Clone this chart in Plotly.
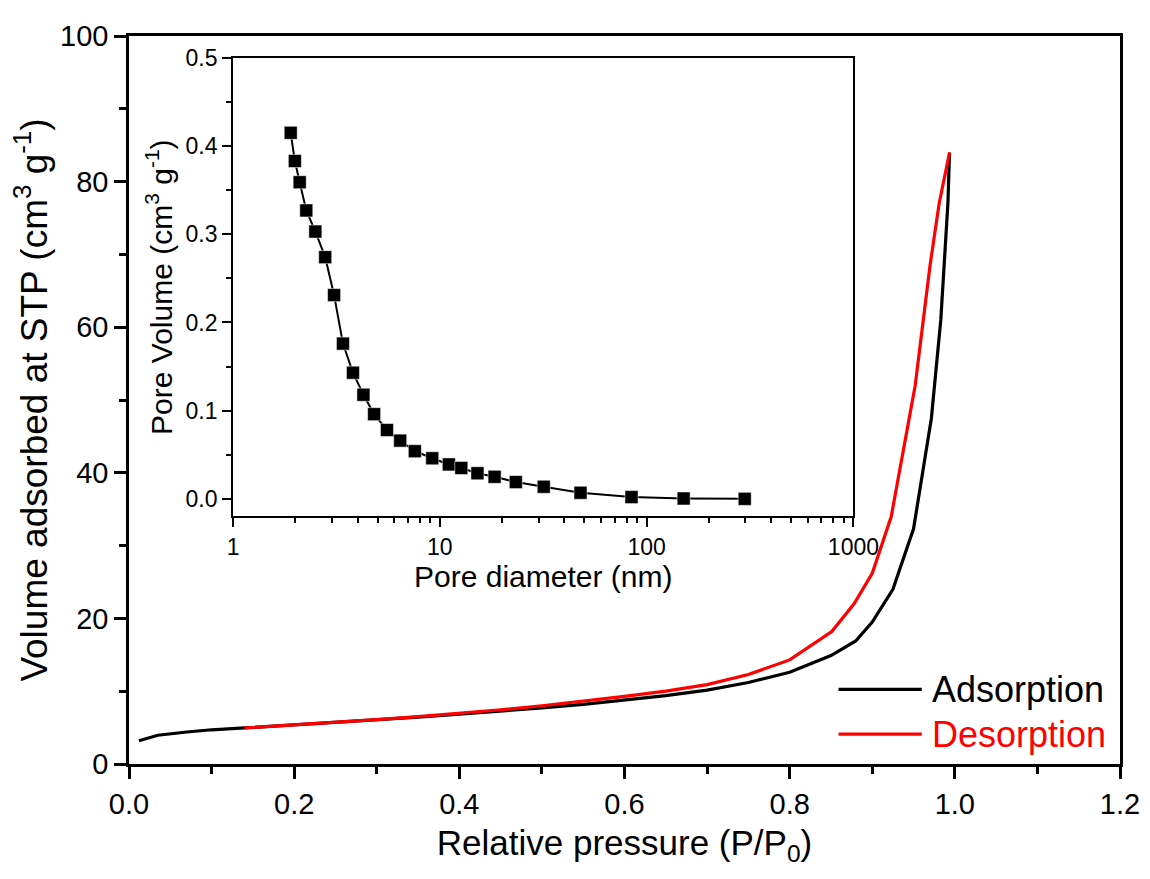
import plotly.graph_objects as go

# N2 sorption isotherm (main plot)
ads_p = [0.012, 0.035, 0.07, 0.10, 0.14, 0.20, 0.25, 0.30, 0.35, 0.40, 0.45, 0.50, 0.55,
         0.60, 0.65, 0.70, 0.75, 0.80, 0.85, 0.88, 0.90, 0.925, 0.95, 0.9716, 0.983, 0.9916, 0.9936]
ads_v = [3.2, 3.95, 4.4, 4.7, 4.95, 5.35, 5.7, 6.05, 6.45, 6.85, 7.25, 7.7, 8.2,
         8.75, 9.4, 10.15, 11.2, 12.6, 14.9, 16.9, 19.5, 24.0, 32.3, 47.5, 61.0, 77.0, 84.0]

des_p = [0.9936, 0.981, 0.970, 0.952, 0.923, 0.900, 0.878, 0.851, 0.80, 0.75, 0.70, 0.65,
         0.60, 0.55, 0.50, 0.45, 0.40, 0.35, 0.30, 0.25, 0.20, 0.14]
des_v = [84.0, 77.0, 68.5, 52.0, 34.0, 26.2, 22.0, 18.2, 14.3, 12.3, 10.9, 10.0,
         9.3, 8.6, 8.0, 7.45, 6.95, 6.5, 6.1, 5.75, 5.4, 4.95]

# pore size distribution (inset)
pore_d = [1.90, 1.99, 2.10, 2.26, 2.50, 2.79, 3.08, 3.40, 3.80, 4.27, 4.81, 5.55, 6.43,
          7.57, 9.19, 11.05, 12.7, 15.2, 18.4, 23.3, 31.8, 47.9, 84.5, 151, 298]
pore_v = [0.415, 0.383, 0.359, 0.327, 0.303, 0.274, 0.231, 0.176, 0.143, 0.118, 0.096, 0.078, 0.066,
          0.054, 0.046, 0.039, 0.035, 0.029, 0.025, 0.019, 0.0137, 0.0069, 0.002, 0.0004, 0.0]

series_names = ['Adsorption', 'Desorption']
series_colors = ['black', '#ff0000']

FONT = "Liberation Sans, Arial, sans-serif"
log_minor = [m * 10 ** k for k in range(3) for m in range(2, 10)]

fig = go.Figure()
fig.add_trace(go.Scatter(x=ads_p, y=ads_v, mode='lines', name=series_names[0],
                         line=dict(color=series_colors[0], width=3.2)))
fig.add_trace(go.Scatter(x=des_p, y=des_v, mode='lines', name=series_names[1],
                         line=dict(color=series_colors[1], width=3.2)))
fig.add_trace(go.Scatter(x=pore_d, y=pore_v, mode='lines+markers',
                         xaxis='x2', yaxis='y2',
                         line=dict(color='black', width=2),
                         marker=dict(symbol='square', size=13, color='black',
                                     line=dict(color='white', width=0.5))))

# legend drawn by hand, as in the original figure (long swatches)
for i, (name, col) in enumerate(zip(series_names, series_colors)):
    yrow = 0.1025 - i * 0.0615
    fig.add_shape(type='line', xref='paper', yref='paper', x0=0.716, x1=0.800, y0=yrow, y1=yrow,
                  line=dict(color=col, width=3.2))
    fig.add_annotation(xref='paper', yref='paper', x=0.808, y=yrow, xanchor='left', yanchor='middle',
                       text=name, showarrow=False, font=dict(size=36, color=col, family=FONT))

fig.update_layout(
    width=1150, height=879,
    margin=dict(l=121, r=15, t=24, b=123),
    paper_bgcolor='white', plot_bgcolor='white',
    showlegend=False,
    font=dict(family=FONT, color='black'),
    xaxis=dict(range=[0, 1.2], dtick=0.2, tickformat='.1f', showgrid=False, zeroline=False,
               showline=True, linecolor='black', linewidth=2.5, mirror=True,
               ticks='outside', ticklen=12, tickwidth=2.5, tickcolor='black',
               minor=dict(ticks='outside', ticklen=7, tickwidth=2.5, dtick=0.1, tickcolor='black'),
               tickfont=dict(size=29),
               title=dict(text='Relative pressure (P/P<sub>0</sub>)', font=dict(size=35), standoff=12)),
    yaxis=dict(range=[0, 100], dtick=20, showgrid=False, zeroline=False,
               showline=True, linecolor='black', linewidth=2.5, mirror=True,
               ticks='outside', ticklen=12, tickwidth=2.5, tickcolor='black',
               minor=dict(ticks='outside', ticklen=7, tickwidth=2.5, dtick=10, tickcolor='black'),
               tickfont=dict(size=29),
               title=dict(text='Volume adsorbed at STP (cm<sup>3</sup> g<sup>-1</sup>)',
                          font=dict(size=37), standoff=10)),
    xaxis2=dict(type='log', domain=[0.105, 0.731], anchor='y2', range=[0, 3],
                tickvals=[1, 10, 100, 1000], ticktext=['1', '10', '100', '1000'],
                showgrid=False, zeroline=False, showline=True, linecolor='black', linewidth=1.8,
                mirror=True, ticks='outside', ticklen=9, tickwidth=1.8, tickcolor='black',
                minor=dict(tickvals=log_minor, ticks='outside', ticklen=5, tickwidth=1.8,
                           tickcolor='black'),
                tickfont=dict(size=23),
                title=dict(text='Pore diameter (nm)', font=dict(size=30), standoff=4)),
    yaxis2=dict(domain=[0.340, 0.970], anchor='x2', range=[-0.02, 0.5], dtick=0.1,
                tickformat='.1f', showgrid=False, zeroline=False, showline=True,
                linecolor='black', linewidth=1.8, mirror=True,
                ticks='outside', ticklen=9, tickwidth=1.8, tickcolor='black',
                minor=dict(ticks='outside', ticklen=5, tickwidth=1.8, dtick=0.05, tickcolor='black'),
                tickfont=dict(size=23),
                title=dict(text='Pore Volume (cm<sup>3</sup> g<sup>-1</sup>)', font=dict(size=30),
                           standoff=4)),
)

fig.write_html("out.html")
